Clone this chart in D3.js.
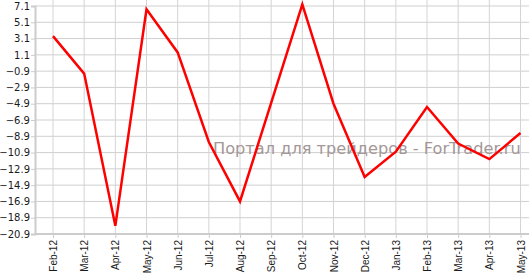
<!DOCTYPE html>
<html>
<head>
<meta charset="utf-8">
<script src="https://cdn.jsdelivr.net/npm/d3@7"></script>
<style>
  body { margin: 0; background: #fff; }
  svg { display: block; }
</style>
</head>
<body>
<svg id="drawing_region"></svg>
<script>
const months = ["Feb-12", "Mar-12", "Apr-12", "May-12", "Jun-12", "Jul-12", "Aug-12", "Sep-12",
                "Oct-12", "Nov-12", "Dec-12", "Jan-13", "Feb-13", "Mar-13", "Apr-13", "May-13"];
const values = [3.4, -1.2, -19.9, 6.7, 1.4, -9.6, -16.9, -4.8,
                7.3, -4.9, -13.9, -10.8, -5.3, -9.8, -11.7, -8.5];
const yTicks = [7.1, 5.1, 3.1, 1.1, -0.9, -2.9, -4.9, -6.9, -8.9, -10.9, -12.9, -14.9, -16.9, -18.9, -20.9];
const watermark = "Портал для трейдеров - ForTrader.ru";

class LineChart {

    constructor( config, data ) {
        this.config = config;
        this.data = data;
        this.init();
    }

    init() {
        let self = this;
        self.svg = d3.select( self.config.parent )
            .attr('width', self.config.width)
            .attr('height', self.config.height);

        self.xscale = d3.scalePoint()
            .domain( months )
            .range( [53, 520.5] );

        self.yscale = d3.scaleLinear()
            .domain( [-20.9, 7.1] )
            .range( [234, 6] );
    }

    render() {
        let self = this;
        const bottom = self.yscale(-20.9);
        const left = 35;

        // grid
        self.svg.append('g')
            .selectAll('line')
            .data( yTicks )
            .join('line')
            .attr('x1', left).attr('x2', self.config.width)
            .attr('y1', d => self.yscale(d)).attr('y2', d => self.yscale(d))
            .attr('stroke', '#cfcfcf');

        self.svg.append('g')
            .selectAll('line')
            .data( months )
            .join('line')
            .attr('x1', d => self.xscale(d)).attr('x2', d => self.xscale(d))
            .attr('y1', 0).attr('y2', bottom)
            .attr('stroke', '#d4d4d4');

        // y axis
        const yaxis = self.svg.append('g')
            .attr('transform', `translate(${left},0)`)
            .call( d3.axisLeft(self.yscale).tickValues(yTicks).tickFormat(d3.format('.1f')).tickSize(4).tickPadding(1) );
        yaxis.select('.domain').attr('stroke', '#cccccc').attr('stroke-width', 2);
        yaxis.selectAll('.tick line').attr('stroke', '#cccccc');
        yaxis.selectAll('text')
            .attr('fill', '#1a1a1a')
            .style('font-family', '"DejaVu Sans", Verdana, sans-serif')
            .style('font-size', '10px');

        // x axis
        const xaxis = self.svg.append('g')
            .attr('transform', `translate(0,${bottom})`)
            .call( d3.axisBottom(self.xscale).tickSize(4).tickSizeOuter(0) );
        xaxis.select('.domain').attr('stroke', '#cccccc').attr('stroke-width', 2)
            .attr('d', `M${left},0H${self.config.width}`);
        xaxis.selectAll('.tick line').attr('stroke', '#cccccc');
        xaxis.selectAll('text')
            .attr('fill', '#1a1a1a')
            .attr('text-anchor', 'end')
            .attr('transform', 'translate(0,6) rotate(-90)')
            .attr('x', 0).attr('y', 0).attr('dy', '0.35em')
            .style('font-family', '"Liberation Sans", Arial, sans-serif')
            .style('font-size', '10px');

        // watermark
        self.svg.append('text')
            .attr('x', 213)
            .attr('y', 154)
            .attr('fill', '#a49797')
            .style('font-family', '"DejaVu Sans", Verdana, sans-serif')
            .style('font-size', '16.2px')
            .text( watermark );

        // line
        const line = d3.line()
            .x( (d, i) => self.xscale(months[i]) )
            .y( d => self.yscale(d) );

        self.svg.append('path')
            .datum( self.data )
            .attr('d', line)
            .attr('fill', 'none')
            .attr('stroke', '#ff0000')
            .attr('stroke-width', 2.5)
            .attr('stroke-linejoin', 'miter');
    }
}

const chart = new LineChart( { parent: '#drawing_region', width: 529, height: 278 }, values );
chart.render();
</script>
</body>
</html>
